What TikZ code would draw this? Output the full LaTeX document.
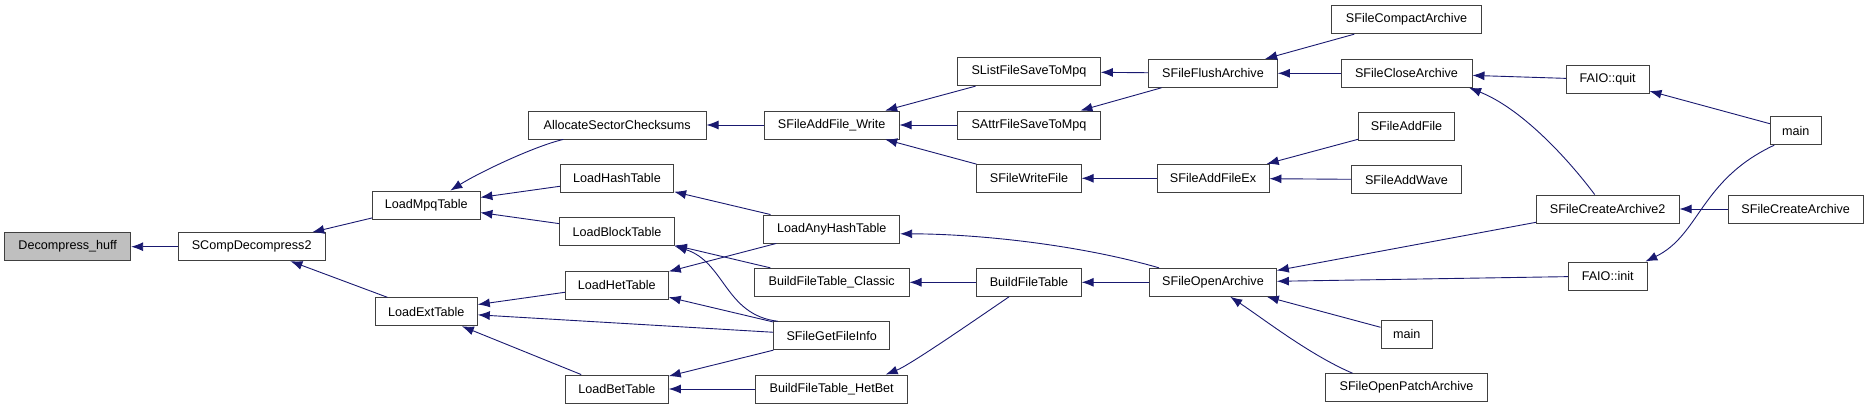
\documentclass[tikz,border=0pt]{standalone}
\usepackage{fontspec}
\setmainfont{Liberation Sans}
\usetikzlibrary{arrows.meta}
\definecolor{edgecol}{HTML}{191970}
\definecolor{boxline}{HTML}{404040}
\tikzset{
  box/.style={draw=boxline, line width=0.9pt, fill=white, minimum height=28pt, inner sep=0pt, font=\fontsize{12.6}{14}\selectfont},
  call/.style={draw=edgecol, line width=0.9pt, {Latex[length=12pt,width=9pt]}-}
}
\begin{document}
\begin{tikzpicture}[x=1pt,y=-1pt]
\useasboundingbox (0,0) rectangle (1869,409);
\node[box, fill=black!25, minimum width=126pt] (dh) at (67.7,246.7) {Decompress\_huff};
\node[box, minimum width=146.7pt] (scd) at (251.7,246.7) {SCompDecompress2};
\node[box, minimum width=107.3pt] (mpq) at (426.3,205) {LoadMpqTable};
\node[box, minimum width=102.3pt] (ext) at (426.2,311.8) {LoadExtTable};
\node[box, minimum width=177.7pt] (alloc) at (617.2,125) {AllocateSectorChecksums};
\node[box, minimum width=113.3pt] (hash) at (617,178.3) {LoadHashTable};
\node[box, minimum width=114.7pt] (block) at (617,231.7) {LoadBlockTable};
\node[box, minimum width=103pt] (het) at (616.8,285) {LoadHetTable};
\node[box, minimum width=103pt] (bet) at (616.8,389) {LoadBetTable};
\node[box, minimum width=134.7pt] (addw) at (831.7,125) {SFileAddFile\_Write};
\node[box, minimum width=136pt] (anyhash) at (831.7,229) {LoadAnyHashTable};
\node[box, minimum width=154.7pt] (bftc) at (831.7,282.3) {BuildFileTable\_Classic};
\node[box, minimum width=116pt] (gfi) at (831.7,335.7) {SFileGetFileInfo};
\node[box, minimum width=152pt] (bfth) at (831.7,389) {BuildFileTable\_HetBet};
\node[box, minimum width=142.7pt] (slist) at (1029,71.7) {SListFileSaveToMpq};
\node[box, minimum width=142.7pt] (sattr) at (1029,125) {SAttrFileSaveToMpq};
\node[box, minimum width=104.3pt] (swrite) at (1029,178.3) {SFileWriteFile};
\node[box, minimum width=104.3pt] (bft) at (1029,282.3) {BuildFileTable};
\node[box, minimum width=128.7pt] (flush) at (1213,73.3) {SFileFlushArchive};
\node[box, minimum width=112pt] (addex) at (1213,178.3) {SFileAddFileEx};
\node[box, minimum width=126.7pt] (open) at (1213,282.3) {SFileOpenArchive};
\node[box, minimum width=149.7pt] (compact) at (1406.5,19.7) {SFileCompactArchive};
\node[box, minimum width=131pt] (close) at (1406.5,73.3) {SFileCloseArchive};
\node[box, minimum width=96.3pt] (addfile) at (1406.5,126.3) {SFileAddFile};
\node[box, minimum width=109.7pt] (addwave) at (1406.5,179.7) {SFileAddWave};
\node[box, minimum width=51.3pt] (mainm) at (1406.7,334.3) {main};
\node[box, minimum width=161.7pt] (patch) at (1406.5,387.7) {SFileOpenPatchArchive};
\node[box, minimum width=82.7pt] (quit) at (1607.7,79.7) {FAIO::quit};
\node[box, minimum width=142.7pt] (create2) at (1607.7,209) {SFileCreateArchive2};
\node[box, minimum width=78.7pt] (init) at (1607.7,276) {FAIO::init};
\node[box, minimum width=50.7pt] (mainr) at (1795.7,130.7) {main};
\node[box, minimum width=134.7pt] (create) at (1795.7,209) {SFileCreateArchive};
% edges (arrow at callee)
\draw[call] (dh) -- (scd);
\draw[call] (scd) -- (mpq);
\draw[call] (scd) -- (ext);
\draw[call] (mpq.31) .. controls (480,172) and (535,146) .. (alloc.195);
\draw[call] (mpq) -- (hash);
\draw[call] (mpq) -- (block);
\draw[call] (ext) -- (het);
\draw[call] (ext) -- (gfi);
\draw[call] (ext) -- (bet);
\draw[call] (alloc) -- (addw);
\draw[call] (hash) -- (anyhash);
\draw[call] (het) -- (anyhash);
\draw[call] (block) -- (bftc);
\draw[call] (block.south east) .. controls (725,262) and (725,315) .. (gfi.165);
\draw[call] (het) -- (gfi);
\draw[call] (bet) -- (gfi);
\draw[call] (bet) -- (bfth);
\draw[call] (addw) -- (slist);
\draw[call] (addw) -- (sattr);
\draw[call] (addw) -- (swrite);
\draw[call] (anyhash.-4) .. controls (980,234) and (1080,245) .. (open.165);
\draw[call] (bftc) -- (bft);
\draw[call] (bfth.15) .. controls (910,365) and (975,320) .. (bft.216);
\draw[call] (slist) -- (flush);
\draw[call] (sattr) -- (flush);
\draw[call] (swrite) -- (addex);
\draw[call] (bft) -- (open);
\draw[call] (flush) -- (compact);
\draw[call] (flush) -- (close);
\draw[call] (addex) -- (addfile);
\draw[call] (addex) -- (addwave);
\draw[call] (open) -- (create2);
\draw[call] (open) -- (init);
\draw[call] (open) -- (mainm);
\draw[call] (open.-40) .. controls (1265,320) and (1310,355) .. (patch.165);
\draw[call] (close) -- (quit);
\draw[call] (close.-13) .. controls (1520,108) and (1565,155) .. (create2.132);
\draw[call] (quit) -- (mainr);
\draw[call] (init.21) .. controls (1700,235) and (1700,180) .. (mainr.214);
\draw[call] (create2) -- (create);
\end{tikzpicture}
\end{document}
